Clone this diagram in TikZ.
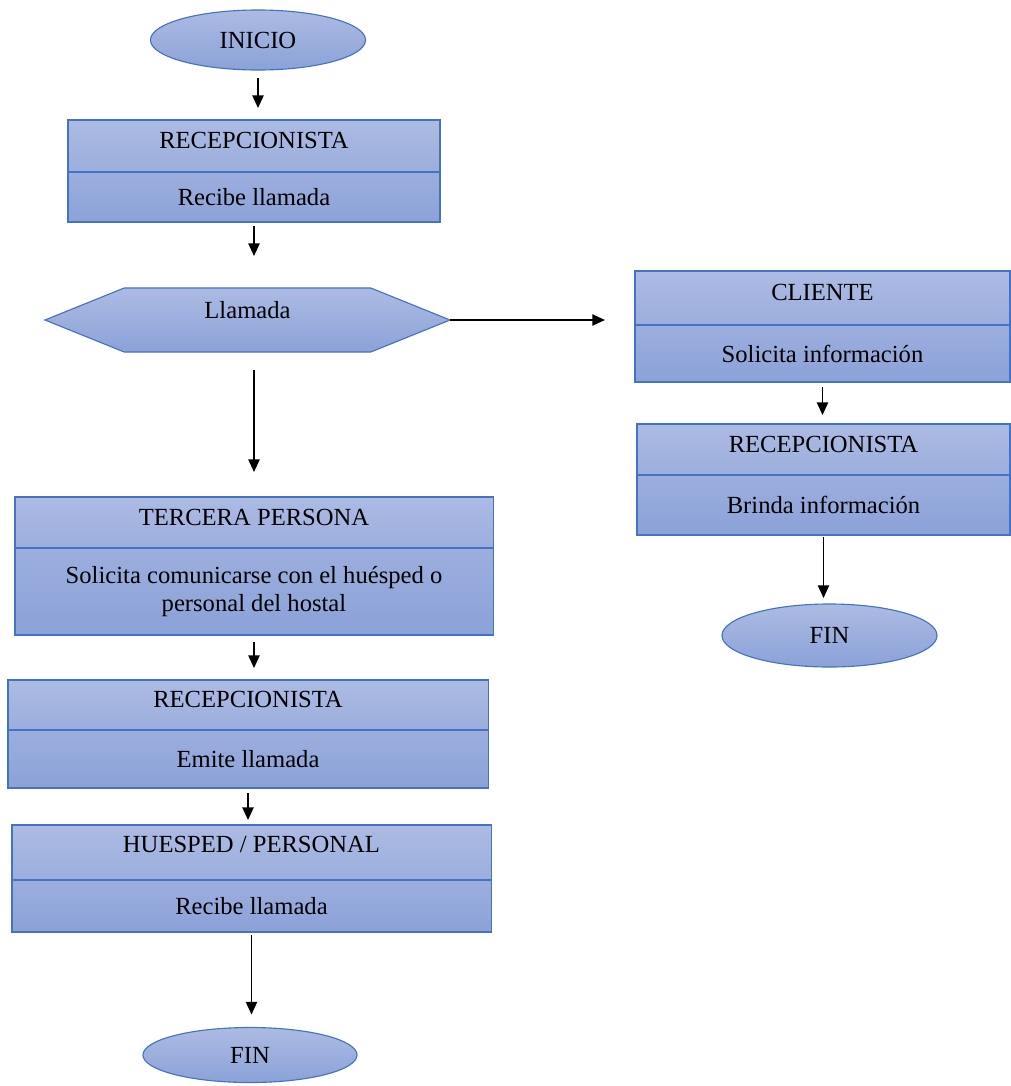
\documentclass[tikz,border=0pt]{standalone}
\usepackage{fontspec}
\setmainfont{Liberation Serif}
\usepackage{tikz}
\usetikzlibrary{arrows.meta,positioning,shapes.geometric,shapes.symbols,calc}

\definecolor{frame}{HTML}{4472C4}
\definecolor{topc}{HTML}{ACBBE3}
\definecolor{midc}{HTML}{9CAEDD}
\definecolor{botc}{HTML}{8BA2D8}

\begin{document}
\begin{tikzpicture}[x=0.025cm, y=-0.025cm,
  txt/.style={font=\fontsize{17.5}{19.5}\selectfont, align=center, inner sep=0pt, outer sep=0pt},
  hd/.style={txt, draw=frame, line width=0.8pt, top color=topc, bottom color=midc, anchor=north, text depth=8pt},
  bd/.style={txt, draw=frame, line width=0.8pt, top color=midc, bottom color=botc},
  term/.style={txt, ellipse, draw=frame, line width=0.8pt, top color=topc, bottom color=botc, minimum width=5.375cm},
  hexa/.style={txt, signal, signal to=east and west, signal pointer angle=44, draw=frame, line width=0.8pt, top color=topc, bottom color=botc},
  arr/.style={-{Triangle[length=9pt,width=8pt]}, line width=1.2pt}
]
\useasboundingbox (0,0) rectangle (1011,1086);

% left column
\node[term, minimum height=1.5cm] (ini) at (258,40) {INICIO};
\node[hd, minimum width=9.3cm, minimum height=1.3cm] (rec1h) at (254,120) {RECEPCIONISTA};
\node[bd, minimum width=9.3cm, minimum height=1.25cm, below=0pt of rec1h] (rec1b) {Recibe llamada};
\node[hexa, minimum width=10.125cm, minimum height=1.6cm, text depth=14pt] (hex) at (247.5,320) {Llamada};
\node[hd, minimum width=11.95cm, minimum height=1.275cm] (terh) at (254,497) {TERCERA PERSONA};
\node[bd, minimum width=11.95cm, minimum height=2.175cm, below=0pt of terh] (terb) {Solicita comunicarse con el huésped o\\personal del hostal};
\node[hd, minimum width=12cm, minimum height=1.25cm] (rec2h) at (248,680) {RECEPCIONISTA};
\node[bd, minimum width=12cm, minimum height=1.45cm, below=0pt of rec2h] (rec2b) {Emite llamada};
\node[hd, minimum width=11.975cm, minimum height=1.375cm, text depth=12pt] (huesh) at (251.5,825) {HUESPED / PERSONAL};
\node[bd, minimum width=11.975cm, minimum height=1.3cm, below=0pt of huesh] (huesb) {Recibe llamada};
\node[term, minimum width=5.35cm, minimum height=1.375cm] (fin1) at (250,1055) {FIN};

% right column
\node[hd, minimum width=9.375cm, minimum height=1.35cm] (clih) at (822.5,271) {CLIENTE};
\node[bd, minimum width=9.375cm, minimum height=1.425cm, below=0pt of clih] (clib) {Solicita información};
\node[hd, minimum width=9.325cm, minimum height=1.275cm] (rec3h) at (823.5,424) {RECEPCIONISTA};
\node[bd, minimum width=9.325cm, minimum height=1.5cm, below=0pt of rec3h] (rec3b) {Brinda información};
\node[term, minimum height=1.575cm] (fin2) at (829.5,635.5) {FIN};

% connectors
\draw[arr, shorten <=0.2cm, shorten >=0.3cm] (ini.south) -- (ini.south |- rec1h.north);
\draw[arr, shorten <=0.1cm, shorten >=0.8cm] (rec1b.south) -- (rec1b.south |- hex.north);
\draw[arr, shorten >=0.75cm] (hex.east) -- (hex.east -| clih.west);
\draw[arr, shorten <=0.45cm, shorten >=0.625cm] (hex.south -| terh.north) -- (terh.north);
\draw[arr, shorten <=0.175cm, shorten >=0.3cm] (terb.south) -- (terb.south |- rec2h.north);
\draw[arr, shorten <=0.125cm, shorten >=0.125cm] (rec2b.south) -- (rec2b.south |- huesh.north);
\draw[arr, shorten <=0.075cm, shorten >=0.325cm] (huesb.south) -- (huesb.south |- fin1.north);
\draw[arr, shorten <=0.125cm, shorten >=0.225cm] (clib.south) -- (clib.south |- rec3h.north);
\draw[arr, shorten <=0.05cm, shorten >=0.15cm] (rec3b.south) -- (rec3b.south |- fin2.north);
\end{tikzpicture}
\end{document}
